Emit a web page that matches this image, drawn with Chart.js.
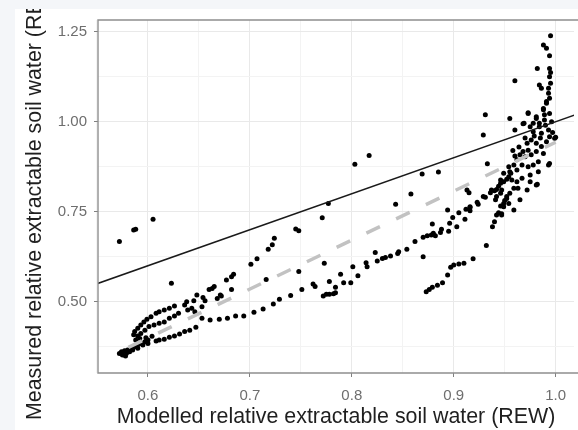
<!DOCTYPE html>
<html lang="en">
<head>
  <meta charset="UTF-8">
  <title>Measured vs modelled REW</title>
  <style>
    * { margin: 0; padding: 0; box-sizing: border-box; }
    body {
      width: 578px;
      height: 430px;
      overflow: hidden;
      background: #f4f6f9;
      font-family: "Liberation Sans", Arial, sans-serif;
    }
    .panel {
      position: absolute;
      left: 15px;
      top: 9px;
      width: 563px;
      height: 421px;
      background: #ffffff;
      overflow: hidden;
    }
  </style>
  <script src="https://cdn.jsdelivr.net/npm/chart.js@4.4.1/dist/chart.umd.min.js"></script>
</head>
<body>
  <div class="panel">
    <canvas id="rewChart" width="563" height="421"></canvas>
  </div>

  <script>
    // modelled REW (x) and measured REW (y)
    const modelledREW = [
      0.572, 0.586, 0.588, 0.605, 0.623,
      0.701, 0.707, 0.718, 0.722, 0.724, 0.745, 0.748, 0.771, 0.777, 0.803, 0.817, 0.843, 0.858,
      0.773, 0.748, 0.716, 0.677, 0.682, 0.684, 0.663, 0.665, 0.682,
      0.823, 0.814, 0.815, 0.825, 0.830, 0.833, 0.838, 0.845, 0.846, 0.854, 0.862,
      0.801, 0.806, 0.789, 0.778, 0.792, 0.799, 0.784, 0.762, 0.764, 0.751,
      0.772, 0.775, 0.778, 0.782, 0.784, 0.740, 0.729, 0.723, 0.713, 0.704, 0.694,
      0.653, 0.661, 0.670, 0.678, 0.686,
      0.660, 0.672, 0.668, 0.648, 0.654, 0.656, 0.645, 0.638, 0.636, 0.639, 0.643, 0.653, 0.646, 0.671,
      0.626, 0.621, 0.616, 0.611, 0.608, 0.603, 0.599, 0.596, 0.593, 0.590, 0.587, 0.586,
      0.630, 0.626, 0.621, 0.616, 0.611, 0.606, 0.601, 0.597, 0.593, 0.590,
      0.647, 0.641, 0.636, 0.631, 0.626, 0.621, 0.616, 0.611, 0.608,
      0.600, 0.597, 0.593, 0.590, 0.587, 0.584, 0.580, 0.577, 0.574, 0.575, 0.579, 0.582, 0.585,
      0.590, 0.595, 0.600, 0.592, 0.588, 0.572, 0.578, 0.598, 0.604,
      0.933, 0.885, 0.869, 0.915, 0.931,
      0.870, 0.874, 0.878, 0.880, 0.882, 0.887, 0.888, 0.895, 0.896, 0.899, 0.903, 0.905, 0.911,
      0.912, 0.916, 0.916, 0.924, 0.936, 0.940, 0.942, 0.944, 0.946, 0.949, 0.952, 0.954, 0.956,
      0.894, 0.879, 0.870,
      0.873, 0.876, 0.879, 0.884, 0.889, 0.894, 0.897, 0.900, 0.905, 0.910, 0.919, 0.932, 0.938,
      0.940, 0.942, 0.947, 0.946, 0.949, 0.952, 0.955, 0.959, 0.942, 0.946, 0.950, 0.947, 0.944,
      0.931, 0.929, 0.955, 0.973, 0.969, 0.960, 0.981, 0.988, 0.991, 0.994, 0.989, 0.984, 0.978,
      0.986, 0.993, 0.994, 0.999, 0.991, 0.986, 0.981, 0.976, 0.972, 0.973, 0.968, 0.965, 0.970,
      0.976, 0.981, 0.988, 0.993, 0.983, 0.978, 0.973, 0.967, 0.962, 0.959, 0.962, 0.955, 0.957,
      0.962, 0.967, 0.975, 0.983, 0.981, 0.972, 0.963, 0.952, 0.947, 0.941, 0.949, 0.954, 0.965,
      0.959, 0.978, 0.975, 0.913, 0.916, 0.923, 0.929, 0.937, 0.946, 0.949, 0.954, 0.975,
      0.995, 0.988, 0.991, 0.994, 0.982, 0.994, 0.995, 0.994, 0.960, 0.995, 0.984, 0.986, 0.993,
      0.993, 0.994, 0.991, 0.988, 0.973, 0.989, 0.968, 0.981, 0.984, 1.000, 0.994, 0.982,
      0.990, 0.996, 0.997, 0.985, 0.979, 0.970, 0.964, 0.958, 0.960
    ];
    const measuredREW = [
      0.667, 0.699, 0.701, 0.729, 0.551,
      0.604, 0.619, 0.646, 0.658, 0.676, 0.702, 0.697, 0.733, 0.773, 0.882, 0.906, 0.771, 0.799,
      0.607, 0.584, 0.562, 0.560, 0.569, 0.576, 0.537, 0.542, 0.534,
      0.637, 0.608, 0.597, 0.613, 0.620, 0.623, 0.627, 0.634, 0.639, 0.646, 0.667,
      0.597, 0.572, 0.576, 0.556, 0.553, 0.553, 0.540, 0.549, 0.542, 0.534,
      0.516, 0.521, 0.521, 0.522, 0.525, 0.517, 0.507, 0.494, 0.480, 0.471, 0.460,
      0.454, 0.449, 0.451, 0.454, 0.460,
      0.534, 0.516, 0.509, 0.519, 0.512, 0.503, 0.503, 0.500, 0.491, 0.477, 0.482, 0.486, 0.472, 0.519,
      0.488, 0.482, 0.477, 0.472, 0.468, 0.458, 0.451, 0.444, 0.435, 0.426, 0.417, 0.408,
      0.468, 0.460, 0.454, 0.444, 0.440, 0.435, 0.431, 0.421, 0.412, 0.405,
      0.429, 0.421, 0.417, 0.410, 0.405, 0.401, 0.396, 0.394, 0.391,
      0.394, 0.389, 0.384, 0.380, 0.375, 0.371, 0.366, 0.364, 0.361, 0.352, 0.357, 0.361, 0.366,
      0.371, 0.380, 0.384, 0.398, 0.394, 0.356, 0.349, 0.400, 0.404,
      0.883, 0.860, 0.855, 0.803, 0.790,
      0.679, 0.683, 0.685, 0.690, 0.683, 0.692, 0.701, 0.696, 0.718, 0.734, 0.708, 0.747, 0.729,
      0.757, 0.753, 0.762, 0.771, 0.803, 0.808, 0.812, 0.821, 0.829, 0.833, 0.840, 0.847, 0.857,
      0.755, 0.716, 0.625,
      0.528, 0.534, 0.540, 0.546, 0.553, 0.574, 0.596, 0.602, 0.605, 0.607, 0.619, 0.656, 0.708,
      0.722, 0.741, 0.741, 0.766, 0.773, 0.787, 0.801, 0.815, 0.792, 0.801, 0.781, 0.744, 0.747,
      1.019, 0.963, 1.009, 1.023, 0.996, 0.977, 1.014, 1.033, 1.051, 1.023, 1.005, 0.986, 0.972,
      0.968, 0.977, 0.958, 0.954, 0.944, 0.931, 0.940, 0.949, 0.940, 0.921, 0.917, 0.908, 0.903,
      0.908, 0.917, 0.912, 0.880, 0.889, 0.880, 0.875, 0.880, 0.894, 0.880, 0.866, 0.861, 0.838,
      0.833, 0.843, 0.852, 0.861, 0.824, 0.810, 0.815, 0.792, 0.810, 0.783, 0.764, 0.773, 0.783,
      0.755, 0.996, 0.986, 0.810, 0.764, 0.776, 0.792, 0.810, 0.838, 0.857, 0.875, 0.833,
      1.239, 1.213, 1.204, 1.183, 1.148, 1.148, 1.137, 1.125, 1.114, 1.107, 1.102, 1.093, 1.093,
      1.079, 1.065, 1.056, 1.037, 1.025, 1.019, 0.994, 1.009, 0.996, 0.957, 0.884, 0.826,
      0.990, 1.000, 0.970, 0.955, 0.960, 0.955, 0.930, 0.920, 0.905
    ];

    // 1:1 line and the fitted linear trend (dashed)
    const oneToOne = [0.5, 1.1];
    const fitX = [0.572, 1.0];
    const fitY = [0.361, 0.943];

    // axes
    const xTickValues = [0.6, 0.7, 0.8, 0.9, 1.0];
    const xTickLabels = ['0.6', '0.7', '0.8', '0.9', '1.0'];
    const yTickValues = [0.5, 0.75, 1.0, 1.25];
    const yTickLabels = ['0.50', '0.75', '1.00', '1.25'];
    const xTitle = 'Modelled relative extractable soil water (REW)';
    const yTitle = 'Measured relative extractable soil water (REW)';

    const xMinor = [0.55, 0.65, 0.75, 0.85, 0.95];
    const yMinor = [0.375, 0.625, 0.875, 1.125];

    const points = modelledREW.map((x, i) => ({ x: x, y: measuredREW[i] }));

    function majorIndex(values, v) {
      return values.findIndex(m => Math.abs(m - v) < 1e-6);
    }

    // ggplot-like panel border (left, top, bottom; right side is outside the window)
    const panelBorder = {
      id: 'panelBorder',
      afterDraw(chart) {
        const { ctx, chartArea: a } = chart;
        ctx.save();
        ctx.strokeStyle = '#8f8f8f';
        ctx.lineWidth = 1.4;
        ctx.beginPath();
        ctx.moveTo(a.right + 5, a.top);
        ctx.lineTo(a.left, a.top);
        ctx.lineTo(a.left, a.bottom);
        ctx.lineTo(a.right + 5, a.bottom);
        ctx.stroke();
        ctx.restore();
      }
    };

    const tickFont = { family: '"Liberation Sans", Arial, sans-serif', size: 15 };
    const titleFont = { family: '"Liberation Sans", Arial, sans-serif', size: 21.4 };

    new Chart(document.getElementById('rewChart'), {
      type: 'scatter',
      data: {
        datasets: [
          {
            label: 'observations',
            data: points,
            backgroundColor: '#000000',
            borderWidth: 0,
            pointRadius: 2.5,
            order: 3
          },
          {
            label: 'linear fit',
            data: fitX.map((x, i) => ({ x: x, y: fitY[i] })),
            showLine: true,
            borderColor: '#c2c2c2',
            borderWidth: 3.5,
            borderDash: [15, 18],
            borderDashOffset: 23,
            pointRadius: 0,
            order: 2
          },
          {
            label: '1:1',
            data: oneToOne.map(v => ({ x: v, y: v })),
            showLine: true,
            borderColor: '#1a1a1a',
            borderWidth: 1.5,
            pointRadius: 0,
            order: 1
          }
        ]
      },
      options: {
        responsive: false,
        animation: false,
        devicePixelRatio: 1,
        layout: { padding: { left: 0, top: 11, right: 0, bottom: 0 } },
        plugins: {
          legend: { display: false },
          tooltip: { enabled: false }
        },
        scales: {
          x: {
            type: 'linear',
            min: 0.551,
            max: 1.018,
            afterBuildTicks: s => {
              s.ticks = xTickValues.concat(xMinor).sort((a, b) => a - b).map(v => ({ value: v }));
            },
            afterFit: s => { s.height = 57; s.paddingLeft = 0; s.paddingRight = 0; },
            border: { display: false },
            grid: {
              color: c => majorIndex(xTickValues, c.tick.value) >= 0 ? '#e9e9e9' : '#f3f3f3',
              lineWidth: 1,
              tickLength: 4,
              tickColor: c => majorIndex(xTickValues, c.tick.value) >= 0 ? '#808080' : 'rgba(0,0,0,0)'
            },
            ticks: {
              autoSkip: false,
              maxRotation: 0,
              padding: 10,
              color: '#6e6e6e',
              font: tickFont,
              callback: v => {
                const i = majorIndex(xTickValues, v);
                return i >= 0 ? xTickLabels[i] : '';
              }
            },
            title: {
              display: true,
              text: xTitle,
              color: '#1f1f1f',
              font: titleFont,
              padding: { top: 0, bottom: 0 }
            }
          },
          y: {
            type: 'linear',
            min: 0.302,
            max: 1.2825,
            afterBuildTicks: s => {
              s.ticks = yTickValues.concat(yMinor).sort((a, b) => a - b).map(v => ({ value: v }));
            },
            afterFit: s => { s.width = 83; s.paddingTop = 0; s.paddingBottom = 0; },
            border: { display: false },
            grid: {
              color: c => majorIndex(yTickValues, c.tick.value) >= 0 ? '#e9e9e9' : '#f3f3f3',
              lineWidth: 1,
              tickLength: 4,
              tickColor: c => majorIndex(yTickValues, c.tick.value) >= 0 ? '#808080' : 'rgba(0,0,0,0)'
            },
            ticks: {
              autoSkip: false,
              padding: 7,
              color: '#6e6e6e',
              font: tickFont,
              callback: v => {
                const i = majorIndex(yTickValues, v);
                return i >= 0 ? yTickLabels[i] : '';
              }
            },
            title: {
              display: true,
              text: yTitle,
              color: '#1f1f1f',
              font: titleFont,
              padding: { top: 7, bottom: 0 }
            }
          }
        }
      },
      plugins: [panelBorder]
    });
  </script>
</body>
</html>
